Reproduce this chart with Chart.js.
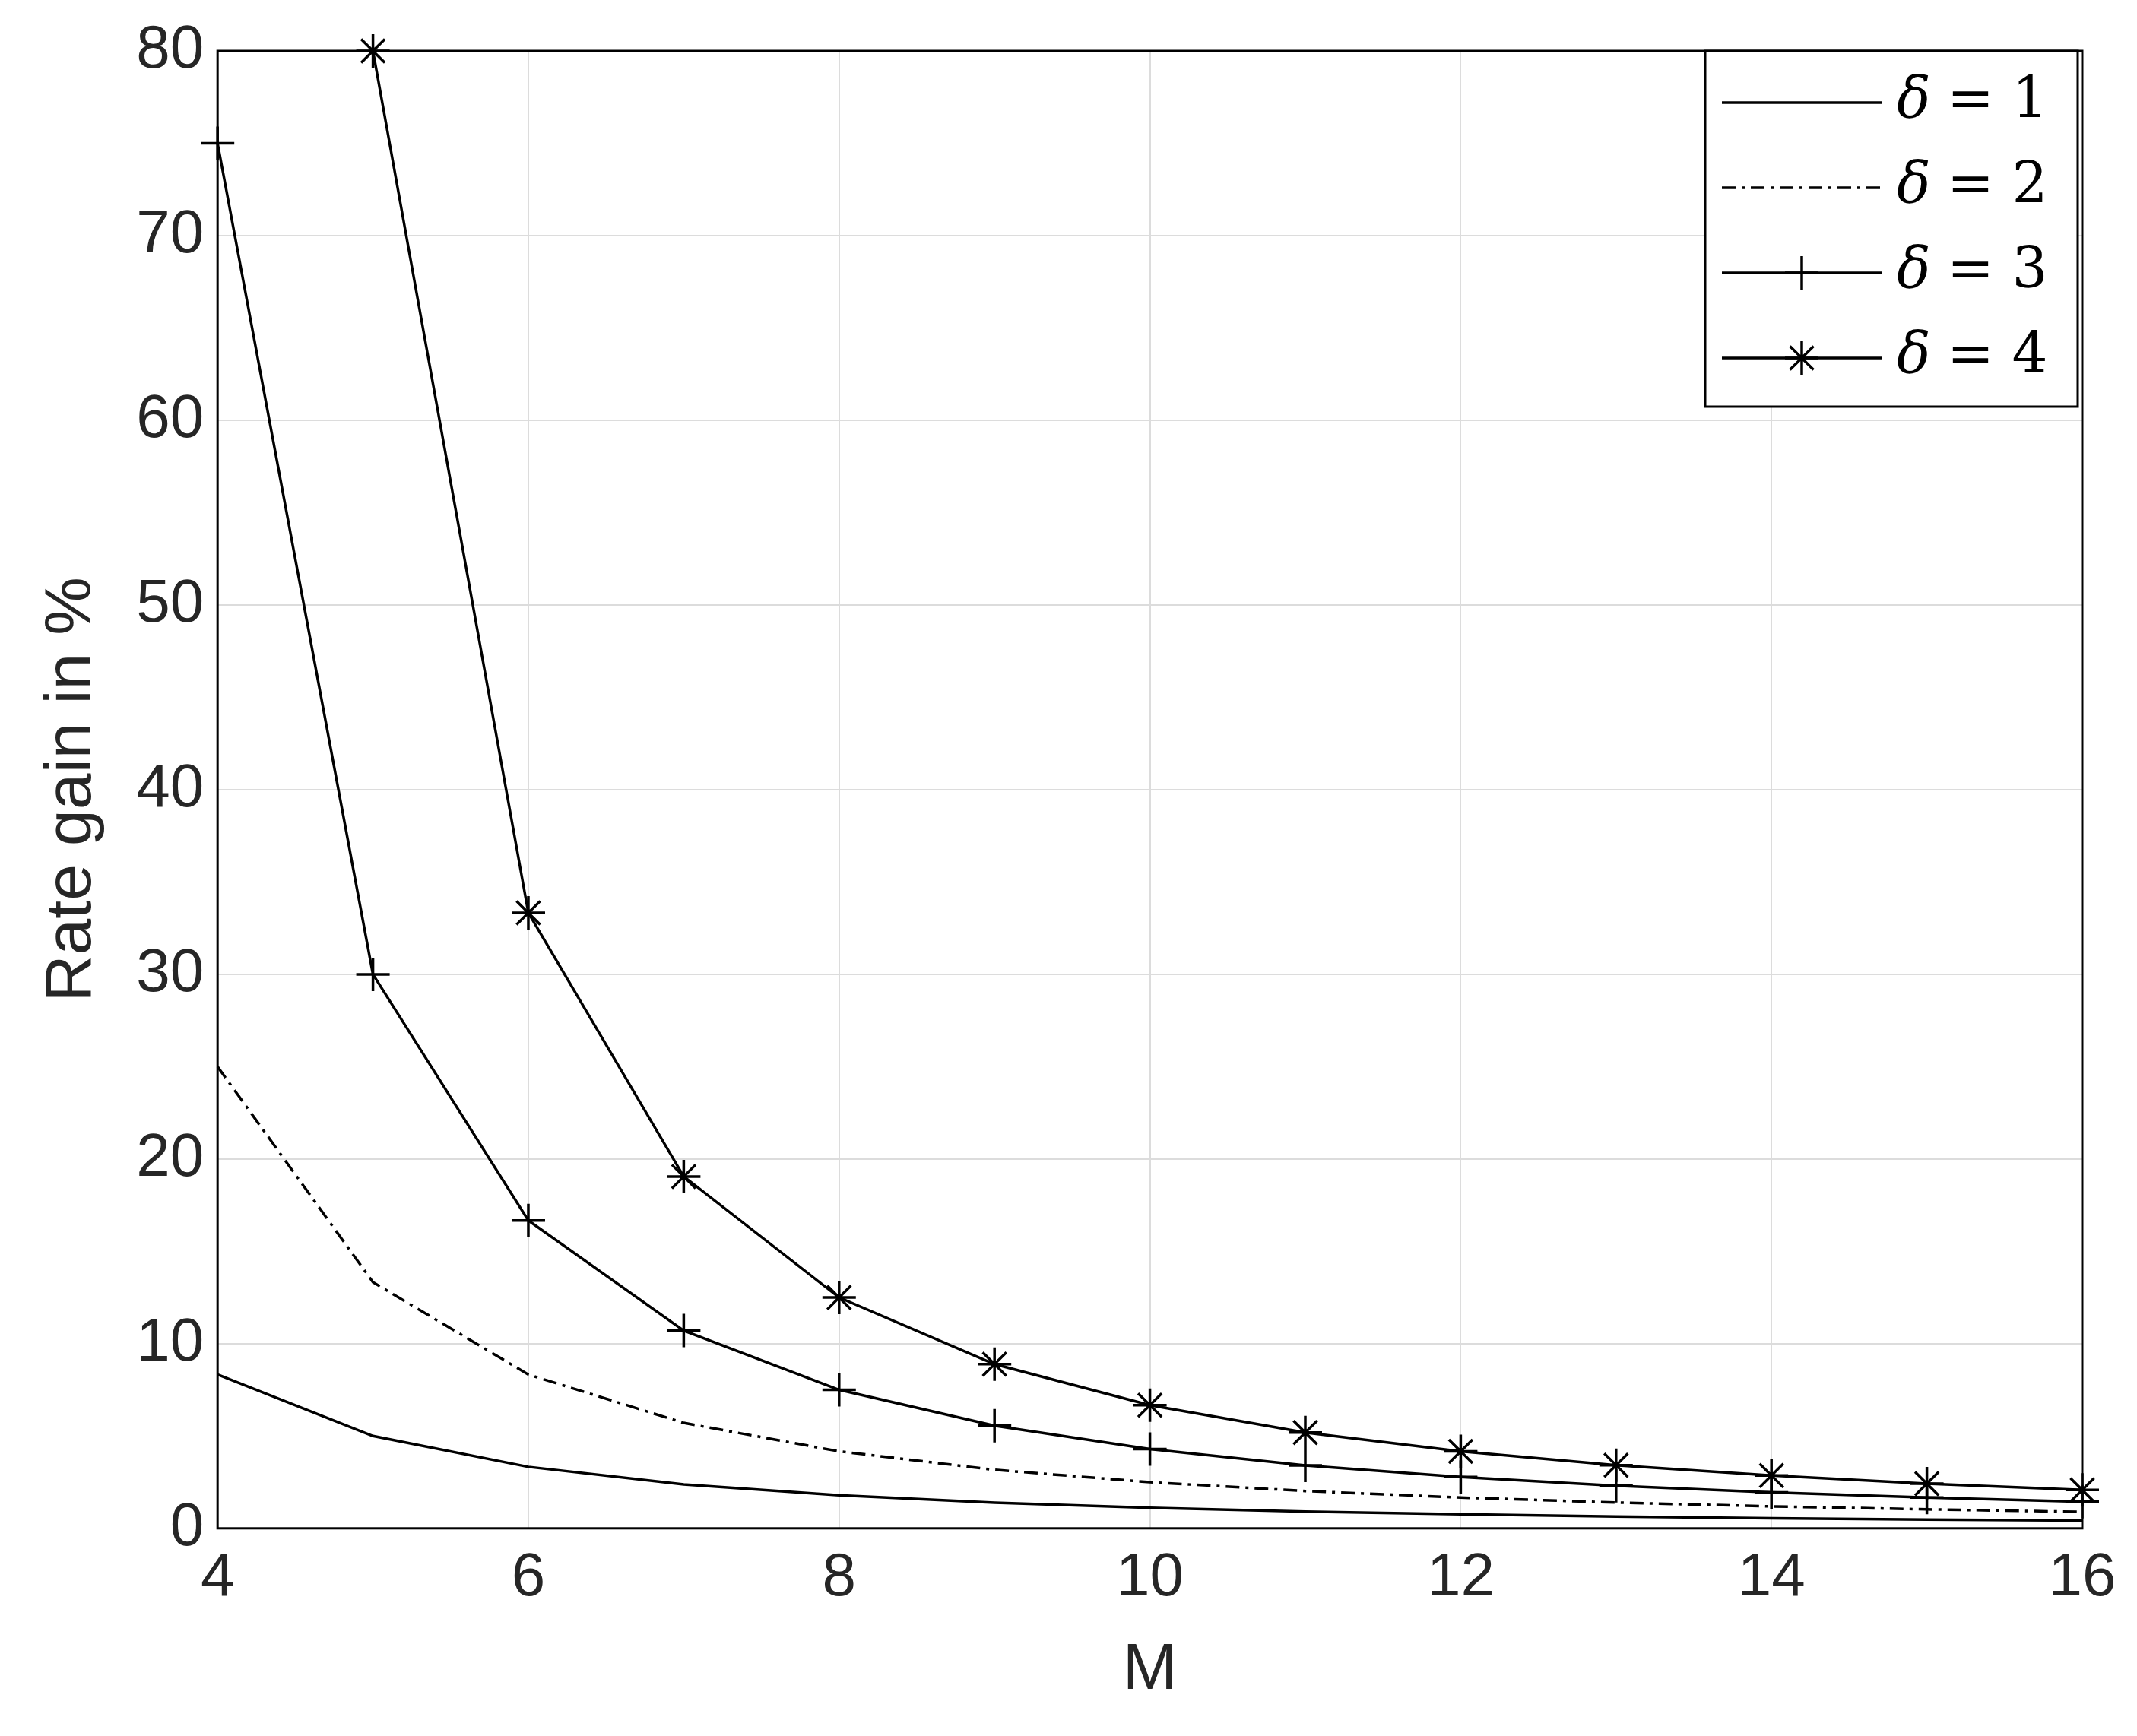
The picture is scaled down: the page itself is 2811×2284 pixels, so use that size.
<!DOCTYPE html>
<html><head><meta charset="utf-8">
<script src="https://cdn.jsdelivr.net/npm/chart.js@4"></script>
<style>html,body{margin:0;padding:0;background:#fff}#w{width:2811px;height:2284px}</style>
</head><body><div id="w"><canvas id="c"></canvas></div>
<script>
const M = [4,5,6,7,8,9,10,11,12,13,14,15,16];
const d1 = [8.33,5.00,3.33,2.38,1.79,1.39,1.11,0.91,0.76,0.64,0.55,0.48,0.42];
const d2 = [25,13.33,8.33,5.71,4.17,3.17,2.5,2.02,1.67,1.40,1.19,1.03,0.89];
const d3 = [75,30,16.67,10.71,7.5,5.56,4.29,3.41,2.78,2.31,1.95,1.67,1.44];
const d4 = [null,80,33.33,19.05,12.5,8.89,6.67,5.19,4.17,3.42,2.86,2.42,2.08];
const labels = ['δ = 1','δ = 2','δ = 3','δ = 4'];
const xTicks = [4,6,8,10,12,14,16];
const styles = [
 {dash:[],pt:false},{dash:[18,8,4,8],pt:false},{dash:[],pt:'cross'},{dash:[],pt:'star'}];
const series=[d1,d2,d3,d4];
const datasets = series.map((s,i)=>({label:labels[i],data:M.map((m,j)=>({x:m,y:s[j]})),
 borderColor:'#000',borderWidth:3.5,borderDash:styles[i].dash,fill:false,tension:0,
 pointStyle:styles[i].pt||'circle',pointRadius:styles[i].pt?22:0,pointBorderColor:'#000',pointBorderWidth:3.5,pointBackgroundColor:'transparent',clip:false}));
const legendPlugin={id:'lg',afterDraw(ch){
 const c=ch.ctx, a=ch.chartArea;
 const x0=2243,y0=a.top,w=490,h=468;
 c.save();c.fillStyle='#fff';c.fillRect(x0,y0,w,h);c.strokeStyle='#000';c.lineWidth=3;c.strokeRect(x0,y0,w,h);
 for(let i=0;i<4;i++){const y=y0+68+i*112;
  c.lineWidth=3.5;c.setLineDash(styles[i].dash);c.beginPath();c.moveTo(x0+22,y);c.lineTo(x0+232,y);c.stroke();c.setLineDash([]);
  if(styles[i].pt){Chart.helpers.drawPoint(c,{pointStyle:styles[i].pt,radius:22,borderWidth:3.5},x0+127,y);}
  c.fillStyle='#000';c.font='italic 74px "DejaVu Serif", serif';c.textBaseline='middle';c.textAlign='left';
  c.fillText('δ',x0+252,y);c.font='74px "DejaVu Serif", serif';c.fillText('= '+(i+1),x0+318,y);}
 c.restore();}};
const boxPlugin={id:'bx',afterDraw(ch){const c=ch.ctx,a=ch.chartArea;c.save();c.strokeStyle='#000';c.lineWidth=3;c.strokeRect(a.left,a.top,a.right-a.left,a.bottom-a.top);c.restore();}};
new Chart(document.getElementById('c'),{type:'line',data:{datasets},
 options:{responsive:true,maintainAspectRatio:false,animation:false,
 layout:{padding:{top:67,right:72,left:40,bottom:30}},
 plugins:{legend:{display:false},tooltip:{enabled:false}},
 scales:{
  x:{type:'linear',min:4,max:16,afterBuildTicks:s=>{s.ticks=xTicks.map(v=>({value:v}));},
   grid:{color:'#dcdcdc',lineWidth:2,tickLength:0},border:{display:false},
   ticks:{color:'#262626',font:{size:80,family:'Liberation Sans'},padding:18},
   title:{display:true,text:'M',color:'#262626',font:{size:86,family:'Liberation Sans'},padding:{top:4}}},
  y:{min:0,max:80,ticks:{stepSize:10,color:'#262626',font:{size:80,family:'Liberation Sans'},padding:18},
   grid:{color:'#dcdcdc',lineWidth:2,tickLength:0},border:{display:false},
   title:{display:true,text:'Rate gain in %',color:'#262626',font:{size:86,family:'Liberation Sans'},padding:{bottom:14}}}}},
 plugins:[boxPlugin,legendPlugin]});
</script></body></html>
